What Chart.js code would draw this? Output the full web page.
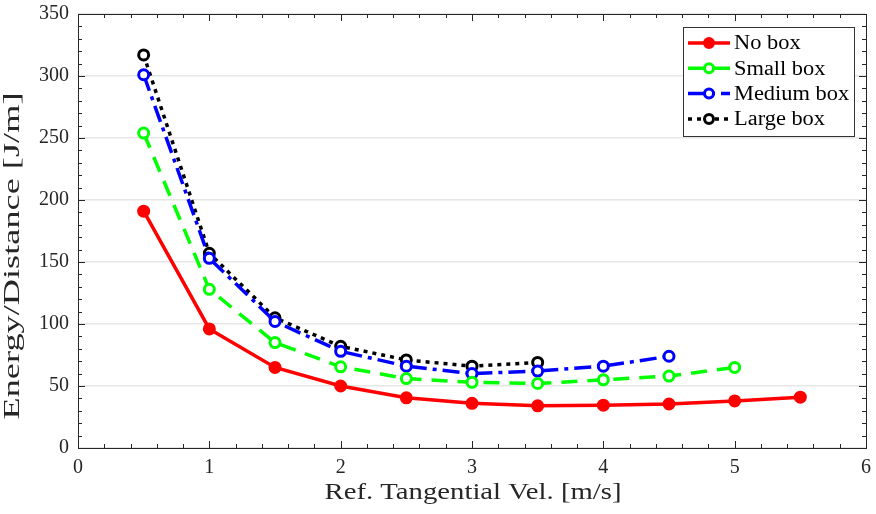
<!DOCTYPE html>
<html><head><meta charset="utf-8">
<script src="https://cdn.jsdelivr.net/npm/chart.js@4/dist/chart.umd.min.js"></script>
<style>html,body{margin:0;padding:0;background:#fff}#wrap{width:876px;height:514px}</style>
</head><body><div id="wrap"><canvas id="c" width="876" height="514"></canvas></div>
<script>
const noBoxX = [0.5,1,1.5,2,2.5,3,3.5,4,4.5,5,5.5];
const noBoxY = [191,96,65,50,40.5,36,34,34.5,35.5,38,41];
const smallBoxX = [0.5,1,1.5,2,2.5,3,3.5,4,4.5,5];
const smallBoxY = [254,128,85,65.5,56,53,52,55,58,65];
const mediumBoxX = [0.5,1,1.5,2,2.5,3,3.5,4,4.5];
const mediumBoxY = [301,153,102,78,66,60,62,66,74];
const largeBoxX = [0.5,1,1.5,2,2.5,3,3.5];
const largeBoxY = [317,157,105,82,71,66,69];
const xTicks = [0,1,2,3,4,5,6];
const yTicks = [0,50,100,150,200,250,300,350];
const seriesNames = ['No box','Small box','Medium box','Large box'];
const xTitle = 'Ref. Tangential Vel. [m/s]';
const yTitle = 'Energy/Distance [J/m]';

const FONT = '"Liberation Serif", "DejaVu Serif", serif';
const AX = '#262626';
const pts = (xs, ys) => xs.map((x,i)=>({x:x,y:ys[i]}));

const styles = [
  {color:'#ff0000', dash:[], fill:'#ff0000'},
  {color:'#00ff00', dash:[16,10], fill:'#ffffff'},
  {color:'#0000ff', dash:[17,6,4,6], fill:'#ffffff'},
  {color:'#000000', dash:[4,5], fill:'#ffffff'}
];
const datas = [pts(noBoxX,noBoxY), pts(smallBoxX,smallBoxY), pts(mediumBoxX,mediumBoxY), pts(largeBoxX,largeBoxY)];

function stretchText(ctx, text, x, y, targetW, rot){
  const w = ctx.measureText(text).width;
  ctx.save();
  ctx.translate(x,y);
  if (rot) ctx.rotate(rot);
  ctx.scale(targetW/w, 1);
  ctx.fillText(text, 0, 0);
  ctx.restore();
}

const boxPlugin = {
  id:'boxPlugin',
  afterDraw(chart){
    const ctx = chart.ctx, a = chart.chartArea;
    const xs = chart.scales.x, ys = chart.scales.y;
    ctx.save();
    ctx.strokeStyle = AX; ctx.lineWidth = 1; ctx.setLineDash([]);
    ctx.beginPath();
    for (let v=0; v<=6.0001; v+=0.2){
      const p = Math.round(xs.getPixelForValue(v))+0.5;
      const major = Math.abs(v-Math.round(v))<1e-6;
      const L = major?7:4;
      ctx.moveTo(p,a.bottom); ctx.lineTo(p,a.bottom-L);
      ctx.moveTo(p,a.top); ctx.lineTo(p,a.top+L);
    }
    for (let v=0; v<=350.001; v+=10){
      const p = Math.round(ys.getPixelForValue(v))+0.5;
      const major = (Math.round(v)%50)===0;
      const L = major?7:4;
      ctx.moveTo(a.left,p); ctx.lineTo(a.left+L,p);
      ctx.moveTo(a.right,p); ctx.lineTo(a.right-L,p);
    }
    ctx.stroke();
    ctx.strokeRect(Math.round(a.left)+0.5, Math.round(a.top)+0.5, Math.round(a.right-a.left), Math.round(a.bottom-a.top));

    // axis titles
    ctx.fillStyle = AX;
    ctx.font = '23px ' + FONT;
    ctx.textAlign = 'center'; ctx.textBaseline = 'middle';
    stretchText(ctx, xTitle, 473, a.bottom + 45, 297, 0);
    stretchText(ctx, yTitle, 13, 256, 327, -Math.PI/2);

    // legend
    const lw = 171, lh = 109;
    const lx = a.right - 12 - lw, ly = a.top + 13;
    ctx.fillStyle = '#fff';
    ctx.fillRect(lx, ly, lw, lh);
    ctx.strokeStyle = '#333'; ctx.lineWidth = 1;
    ctx.strokeRect(Math.round(lx)+0.5, Math.round(ly)+0.5, lw, lh);
    ctx.font = '20px ' + FONT;
    ctx.textBaseline = 'middle'; ctx.textAlign = 'left';
    for (let i=0;i<4;i++){
      const s = styles[i];
      const cy = ly + 16 + i*25.3;
      ctx.strokeStyle = s.color; ctx.lineWidth = 3.5; ctx.setLineDash(s.dash);
      ctx.beginPath(); ctx.moveTo(lx+5, cy); ctx.lineTo(lx+47, cy); ctx.stroke();
      ctx.setLineDash([]);
      ctx.beginPath(); ctx.arc(lx+26, cy, 4.5, 0, Math.PI*2);
      ctx.fillStyle = s.fill; ctx.fill(); ctx.lineWidth = 3; ctx.stroke();
      ctx.fillStyle = '#000';
      ctx.save(); ctx.translate(lx+51, cy+1); ctx.scale(1.12,1);
      ctx.fillText(seriesNames[i], 0, 0); ctx.restore();
    }
    ctx.restore();
  }
};

new Chart(document.getElementById('c'), {
  type:'line',
  data:{ datasets: datas.map((d,i)=>({
    label: seriesNames[i], data:d,
    borderColor: styles[i].color, backgroundColor: styles[i].fill,
    borderWidth:3.5, borderDash: styles[i].dash,
    pointRadius:5, pointBorderWidth:3, pointBackgroundColor: styles[i].fill,
    pointBorderColor: styles[i].color, tension:0, fill:false
  }))},
  options:{
    responsive:false, animation:false, devicePixelRatio:1,
    layout:{padding:{top:14,right:10,left:0,bottom:0}},
    plugins:{legend:{display:false}, tooltip:{enabled:false}},
    scales:{
      x:{type:'linear', min:0, max:6,
        afterBuildTicks(s){ s.ticks = xTicks.map(v=>({value:v})); },
        afterFit(s){ s.height = 66; s.paddingLeft = 0; s.paddingRight = 0; },
        grid:{display:false, drawTicks:false}, border:{display:false},
        ticks:{color:AX, font:{family:FONT,size:20}, padding:8, maxRotation:0},
        title:{display:false}
      },
      y:{type:'linear', min:0, max:350,
        afterBuildTicks(s){ s.ticks = yTicks.map(v=>({value:v})); },
        afterFit(s){ s.width = 78; s.paddingTop = 0; s.paddingBottom = 0; },
        grid:{color:'#e6e6e6', lineWidth:1.5, drawTicks:false}, border:{display:false},
        ticks:{color:AX, font:{family:FONT,size:20}, padding:9},
        title:{display:false}
      }
    }
  },
  plugins:[boxPlugin]
});
</script></body></html>
